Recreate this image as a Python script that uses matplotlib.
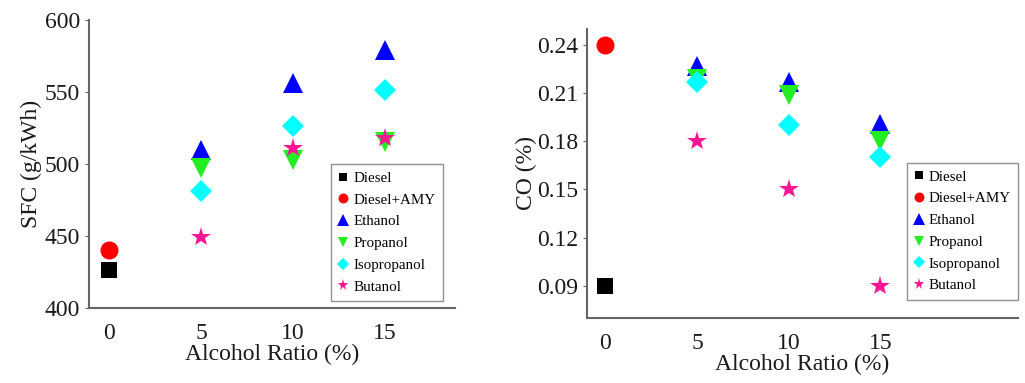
import matplotlib
matplotlib.use("Agg")
import matplotlib.pyplot as plt

plt.rcParams['font.family'] = ['Liberation Serif', 'DejaVu Serif']

fuels = ['Diesel', 'Diesel+AMY', 'Ethanol', 'Propanol', 'Isopropanol', 'Butanol']
ratio_base = [0]
ratio_alc = [5, 10, 15]

sfc_diesel = [426]
sfc_amy = [440]
sfc_ethanol = [510, 556, 579]
sfc_propanol = [497, 503, 515]
sfc_isopropanol = [481, 526, 551]
sfc_butanol = [449, 511, 518]

co_diesel = [0.09]
co_amy = [0.24]
co_ethanol = [0.227, 0.217, 0.191]
co_propanol = [0.219, 0.209, 0.18]
co_isopropanol = [0.217, 0.19, 0.17]
co_butanol = [0.18, 0.15, 0.09]

styles = [('s', 'black', 11), ('o', 'red', 13), ('^', 'blue', 15),
          ('v', '#22ee22', 14), ('D', 'cyan', 11), ('*', '#ff1493', 15)]

fig = plt.figure(figsize=(10.25, 3.83), dpi=100)
axL = fig.add_axes([0.0868, 0.196, 0.357, 0.752])
axR = fig.add_axes([0.5727, 0.170, 0.4205, 0.7546])

def draw(ax, series):
    for name, (xs, ys), (m, c, s) in zip(fuels, series, styles):
        ax.plot(xs, ys, linestyle='none', marker=m, color=c, markersize=s,
                markeredgewidth=0, label=name)
    for side in ['top', 'right']:
        ax.spines[side].set_visible(False)
    for side in ['left', 'bottom']:
        ax.spines[side].set_color('#666666')
        ax.spines[side].set_linewidth(1.5)
    ax.tick_params(axis='both', labelsize=17, colors='#1a1a1a', length=3, color='#666666')
    ax.tick_params(axis='x', length=0, pad=11)
    ax.set_xlabel('Alcohol Ratio (%)', fontsize=17, color='#1a1a1a', labelpad=0)

def add_legend(ax, anchor):
    leg = ax.legend(loc='lower right', bbox_to_anchor=anchor, fontsize=10.8,
                    markerscale=0.55, handlelength=0.6, handletextpad=0.35,
                    labelspacing=0.55, borderpad=0.5, borderaxespad=0,
                    fancybox=False, frameon=True)
    leg.get_frame().set_edgecolor('#777777')

draw(axL, [(ratio_base, sfc_diesel), (ratio_base, sfc_amy), (ratio_alc, sfc_ethanol),
           (ratio_alc, sfc_propanol), (ratio_alc, sfc_isopropanol), (ratio_alc, sfc_butanol)])
axL.set_xlim(-1.1, 18.8)
axL.set_ylim(400, 600)
axL.set_xticks([0, 5, 10, 15])
axL.set_yticks([400, 450, 500, 550, 600])
axL.set_ylabel('SFC (g/kWh)', fontsize=17, color='#1a1a1a', labelpad=2)
add_legend(axL, (0.967, 0.024))

draw(axR, [(ratio_base, co_diesel), (ratio_base, co_amy), (ratio_alc, co_ethanol),
           (ratio_alc, co_propanol), (ratio_alc, co_isopropanol), (ratio_alc, co_butanol)])
axR.set_xlim(-1.0, 22.5)
axR.set_ylim(0.07, 0.25)
axR.set_xticks([0, 5, 10, 15])
axR.set_yticks([0.09, 0.12, 0.15, 0.18, 0.21, 0.24])
axR.set_ylabel('CO (%)', fontsize=17, color='#1a1a1a', labelpad=0)
add_legend(axR, (1.0, 0.062))

fig.savefig('out.png', dpi=100)
